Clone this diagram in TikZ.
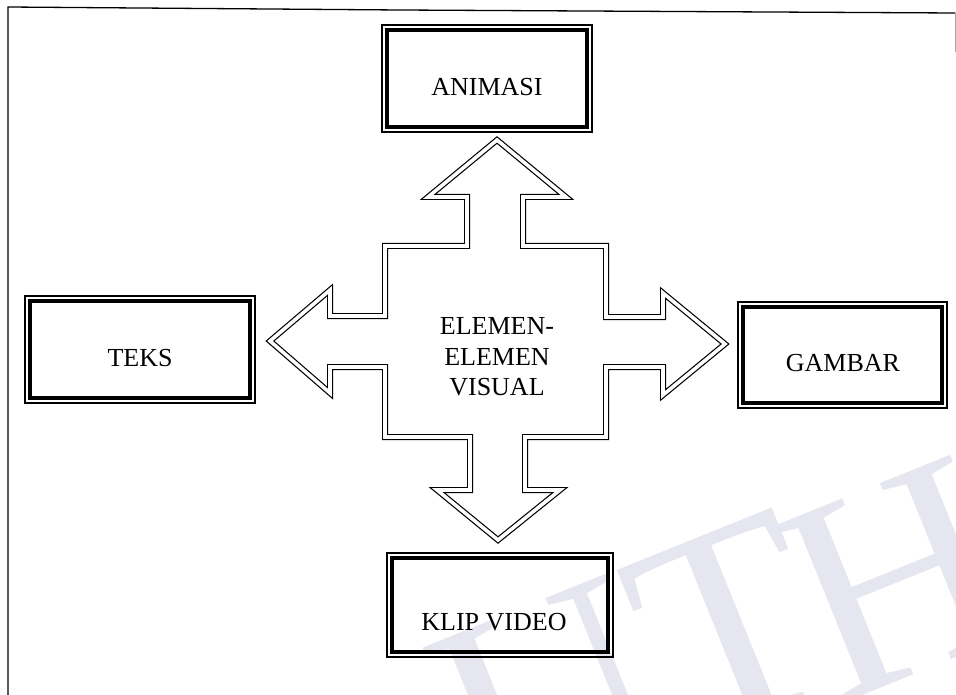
\documentclass[tikz,border=0pt]{standalone}
\usepackage{fontspec}
\setmainfont{Liberation Serif}
\usetikzlibrary{fit}
\definecolor{wmark}{RGB}{230,230,240}
\begin{document}
\begin{tikzpicture}[x=1pt,y=-1pt,
  frameline/.style={line width=1.3pt, line cap=round},
  cross/.style={draw=black, line width=1.2pt, double=white, double distance=3.6pt, line join=miter},
  boxcore/.style={draw, line width=3.5pt, outer sep=0pt, inner sep=0pt},
  boxrim/.style={draw, line width=1.1pt, outer sep=0pt, inner sep=5pt},
  lbl/.style={font=\fontsize{26}{30.5}\selectfont, inner sep=0pt, align=center},
  wm/.style={text=wmark, font=\fontsize{290}{290}\selectfont, inner sep=0pt, outer sep=0pt, rotate=22}
]
\useasboundingbox (0,0) rectangle (956,695);

% faint watermark lettering behind everything
\node[wm, anchor=north west] (wmT) at (612,572) {T};
\node[wm, anchor=north west] (wmH) at (764,530) {H};
\node[wm, anchor=north east] (wmU) at (wmT.north west) {U};

% page frame (open at the bottom)
\draw[frameline] (8,695) -- (8,7) -- (400,10) -- (955,13);
\draw[line width=0.8pt, black!35] (955,13) -- (955,52);

% four-way arrow drawn with a double outline
\draw[cross] (385,246) -- (467,246) -- (467,197) -- (428,197) -- (497,140)
  -- (566,197) -- (523,197) -- (523,246) -- (606,246) -- (606,317)
  -- (663,317) -- (663,293) -- (725,344) -- (663,395) -- (663,367)
  -- (606,367) -- (606,437) -- (525,437) -- (525,490) -- (560,490)
  -- (498,540) -- (437,490) -- (470,490) -- (470,437) -- (385,437)
  -- (385,367) -- (330,367) -- (330,393) -- (270,341) -- (330,290)
  -- (330,316) -- (385,316) -- cycle;

\node[lbl] (centre) at (497,357) {ELEMEN-\\ELEMEN\\VISUAL};

% framed boxes: thick inner border, thin outer rim
\node[boxcore, minimum width=200pt, minimum height=97pt] (animasi) at (487,78.5) {};
\node[boxrim, fit=(animasi)] (animasi-rim) {};
\node[lbl] (animasi-t) at (487,87) {ANIMASI};

\node[boxcore, minimum width=220pt, minimum height=97pt] (teks) at (140,349.5) {};
\node[boxrim, fit=(teks)] (teks-rim) {};
\node[lbl] (teks-t) at (140,358) {TEKS};

\node[boxcore, minimum width=199pt, minimum height=96pt] (gambar) at (842.5,355) {};
\node[boxrim, fit=(gambar)] (gambar-rim) {};
\node[lbl] (gambar-t) at (843,363) {GAMBAR};

\node[boxcore, minimum width=216pt, minimum height=94pt] (klip) at (500,605) {};
\node[boxrim, fit=(klip)] (klip-rim) {};
\node[lbl] (klip-t) at (494,622) {KLIP VIDEO};
\end{tikzpicture}
\end{document}
